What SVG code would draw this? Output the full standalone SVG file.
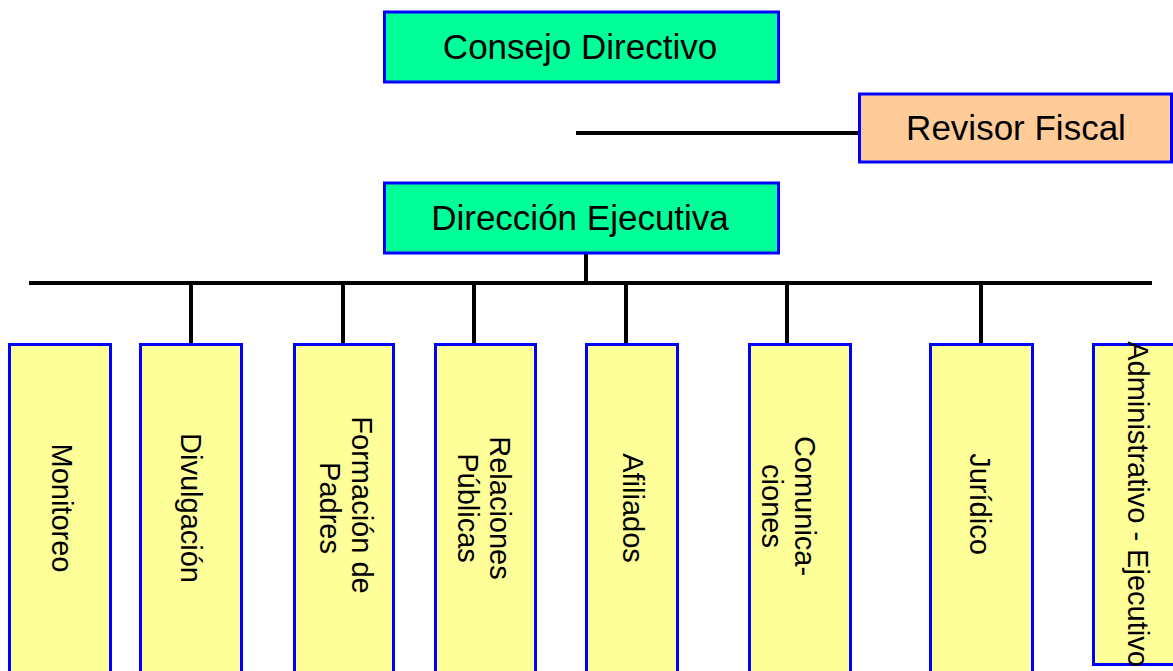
<svg xmlns="http://www.w3.org/2000/svg" width="1173" height="671" viewBox="0 0 1173 671">
<style>
.box{stroke:#0000FF;stroke-width:3}
.green{fill:#00FF99}
.peach{fill:#FFCC99}
.yellow{fill:#FFFF99}
.t{font-family:"Liberation Sans",Arial,sans-serif;fill:#000}
.top{font-size:35px;text-anchor:middle}
.v{font-size:29px;text-anchor:middle}
.ln{stroke:#000;stroke-width:4;fill:none}
</style>
<rect width="1173" height="671" fill="#FFFFFF"/>
<g id="connectors">
<line class="ln" x1="576" y1="133" x2="859" y2="133"/>
<line class="ln" x1="586" y1="253" x2="586" y2="283"/>
<line class="ln" x1="29" y1="283" x2="1152" y2="283"/>
<line class="ln" x1="191" y1="283" x2="191" y2="344"/>
<line class="ln" x1="343" y1="283" x2="343" y2="344"/>
<line class="ln" x1="474" y1="283" x2="474" y2="344"/>
<line class="ln" x1="626" y1="283" x2="626" y2="344"/>
<line class="ln" x1="787" y1="283" x2="787" y2="344"/>
<line class="ln" x1="981" y1="283" x2="981" y2="344"/>
</g>
<g id="consejo">
<rect class="box green" x="384.5" y="12" width="394" height="70"/>
<text class="t top" x="580" y="59">Consejo Directivo</text>
</g>
<g id="revisor">
<rect class="box peach" x="859.5" y="94" width="312" height="68"/>
<text class="t top" x="1016" y="140">Revisor Fiscal</text>
</g>
<g id="direccion">
<rect class="box green" x="384.5" y="183" width="394" height="70"/>
<text class="t top" x="580" y="230">Dirección Ejecutiva</text>
</g>
<g id="monitoreo">
<rect class="box yellow" x="9.5" y="344.5" width="101" height="340"/>
<text class="t v" transform="translate(60,508) rotate(90)" y="8">Monitoreo</text>
</g>
<g id="divulgacion">
<rect class="box yellow" x="140.5" y="344.5" width="101" height="340"/>
<text class="t v" transform="translate(191,508) rotate(90)" y="10">Divulgación</text>
</g>
<g id="formacion">
<rect class="box yellow" x="294.5" y="344.5" width="99" height="340"/>
<text class="t v" transform="translate(343.5,505) rotate(90)" y="-8.5">Formación de</text>
<text class="t v" transform="translate(343.5,508) rotate(90)" y="23.5">Padres</text>
</g>
<g id="relaciones">
<rect class="box yellow" x="435.5" y="344.5" width="100" height="340"/>
<text class="t v" transform="translate(485,508) rotate(90)" y="-5">Relaciones</text>
<text class="t v" transform="translate(485,508) rotate(90)" y="27">Públicas</text>
</g>
<g id="afiliados">
<rect class="box yellow" x="586.5" y="344.5" width="91" height="340"/>
<text class="t v" transform="translate(631.5,508) rotate(90)" y="8.5">Afiliados</text>
</g>
<g id="comunicaciones">
<rect class="box yellow" x="749.5" y="344.5" width="101" height="340"/>
<text class="t v" transform="translate(799.5,506) rotate(90)" y="4.5">Comunica-</text>
<text class="t v" transform="translate(799.5,506) rotate(90)" y="37.5">ciones</text>
</g>
<g id="juridico">
<rect class="box yellow" x="930.5" y="344.5" width="102" height="340"/>
<text class="t v" transform="translate(981,504) rotate(90)" y="11">Jurídico</text>
</g>
<g id="administrativo">
<rect class="box yellow" x="1093.5" y="344.5" width="110" height="320"/>
<text class="t v" transform="translate(1140,504) rotate(90)" y="12">Administrativo - Ejecutivo</text>
</g>
</svg>
